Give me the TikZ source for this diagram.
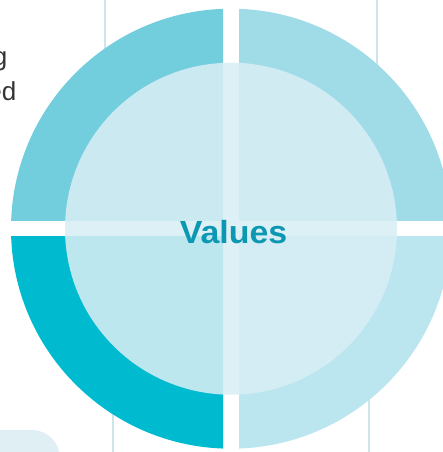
\documentclass[tikz,border=0pt]{standalone}
\usepackage{fontspec}
\setmainfont{Liberation Sans}
\usetikzlibrary{positioning}

\definecolor{ringtl}{RGB}{114,205,220}
\definecolor{ringtr}{RGB}{160,219,232}
\definecolor{ringbl}{RGB}{0,187,208}
\definecolor{ringbr}{RGB}{187,230,239}
\definecolor{corefill}{RGB}{216,238,244}
\definecolor{valtext}{RGB}{12,152,178}
\definecolor{bodytext}{RGB}{51,51,51}
\definecolor{gridline}{RGB}{205,228,236}
\definecolor{tabfill}{RGB}{224,239,243}

\begin{document}
\begin{tikzpicture}[
      x=1pt, y=-1pt,
      guide/.style={draw=gridline, line width=1.5pt},
      core/.style={fill=corefill, fill opacity=0.87},
      title/.style={font=\fontsize{32}{32}\selectfont\bfseries\addfontfeature{FakeStretch=1.06}, text=valtext, inner sep=0pt},
      body/.style={font=\fontsize{26}{34}\selectfont, text=bodytext, inner sep=0pt}
  ]
    \useasboundingbox (0,0) rectangle (443,452);
    \coordinate (c) at (231,228.7);

    % guide lines and the tab behind the ring
    \draw[guide] (105,0) -- (105,70);
    \draw[guide] (377,0) -- (377,80);
    \draw[guide] (113,400) -- (113,452);
    \draw[guide] (369,390) -- (369,452);
    \fill[tabfill, rounded corners=28pt] (-40,430) rectangle (60,500);

    % four quarters of the ring
    \begin{scope}
      \clip (0,0) rectangle (223,220.7);
      \fill[ringtl] (c) circle (220pt);
    \end{scope}
    \begin{scope}
      \clip (239,0) rectangle (443,220.7);
      \fill[ringtr] (c) circle (220pt);
    \end{scope}
    \begin{scope}
      \clip (0,236.7) rectangle (223,452);
      \fill[ringbl] (c) circle (220pt);
    \end{scope}
    \begin{scope}
      \clip (239,236.7) rectangle (443,452);
      \fill[ringbr] (c) circle (220pt);
    \end{scope}

    \fill[core] (c) circle (166pt);

    \node[title, anchor=base] (values) at (233.5,243.3) {Values};

    \node[body, anchor=base east] (line1) at (7.5,66) {g};
    \node[body, anchor=base east] (line2) at (16.5,100) {ed};
\end{tikzpicture}
\end{document}
